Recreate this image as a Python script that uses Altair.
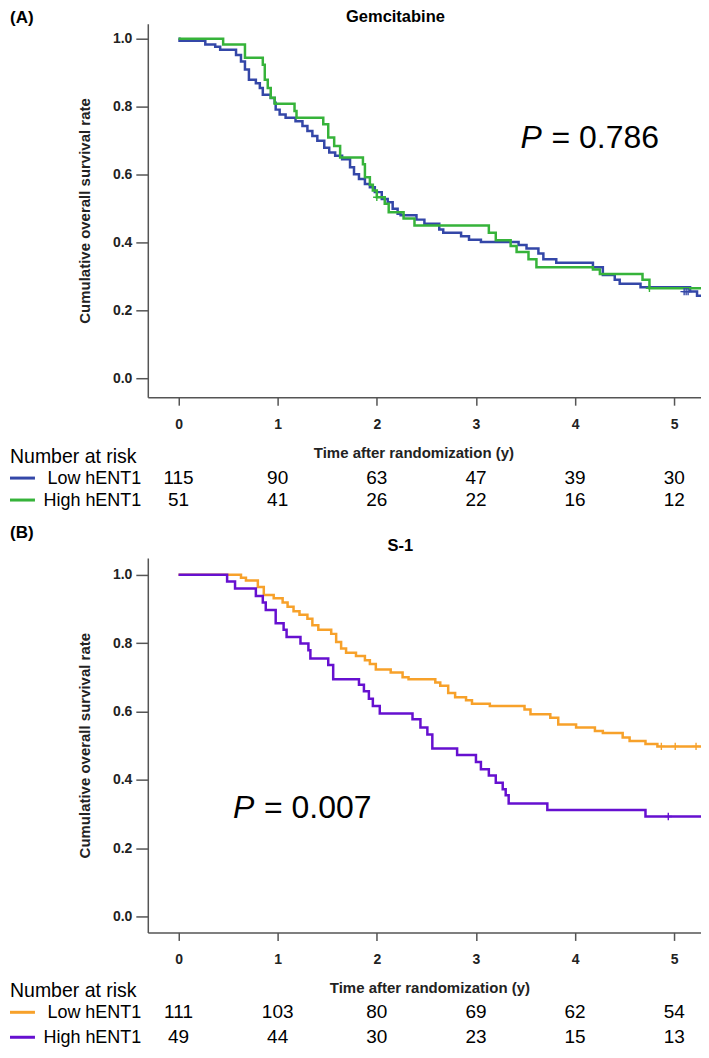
import altair as alt
import pandas as pd

# ---------------- data ----------------
groups = ["Low hENT1", "High hENT1"]

# (A) Gemcitabine - Kaplan-Meier steps (time in years, survival after step)
gem_low_t = [0, 0.01, 0.27, 0.37, 0.42, 0.58, 0.63, 0.67, 0.71, 0.78, 0.82, 0.85, 0.93, 0.97,
             0.98, 1.02, 1.08, 1.18, 1.25, 1.30, 1.35, 1.40, 1.47, 1.52, 1.58, 1.65, 1.73, 1.77,
             1.82, 1.88, 1.93, 1.98, 2.05, 2.11, 2.16, 2.21, 2.24, 2.40, 2.48, 2.63, 2.67, 2.85,
             2.93, 3.05, 3.43, 3.51, 3.63, 3.68, 3.81, 4.18, 4.28, 4.40, 4.45, 4.66, 5.16, 5.23, 5.29]
gem_low_s = [1.0, 0.994, 0.983, 0.976, 0.967, 0.952, 0.933, 0.909, 0.879, 0.869, 0.855, 0.835, 0.825, 0.811,
             0.791, 0.777, 0.767, 0.757, 0.743, 0.728, 0.713, 0.699, 0.679, 0.665, 0.655, 0.645, 0.621, 0.601,
             0.587, 0.572, 0.562, 0.548, 0.528, 0.518, 0.499, 0.484, 0.480, 0.467, 0.455, 0.438, 0.428, 0.418,
             0.408, 0.401, 0.392, 0.382, 0.367, 0.350, 0.340, 0.327, 0.304, 0.290, 0.278, 0.268, 0.255, 0.243, 0.243]
gem_high_t = [0, 0.45, 0.67, 0.85, 0.87, 0.90, 0.93, 0.97, 1.17, 1.19, 1.46, 1.51, 1.57, 1.63, 1.86,
              1.88, 1.93, 1.96, 2.00, 2.08, 2.12, 2.27, 2.38, 3.13, 3.20, 3.35, 3.41, 3.53, 3.61, 4.18,
              4.25, 4.68, 4.75, 5.29]
gem_high_s = [1.0, 0.983, 0.944, 0.923, 0.879, 0.855, 0.826, 0.808, 0.787, 0.767, 0.748, 0.709, 0.684, 0.650, 0.630,
              0.592, 0.570, 0.553, 0.533, 0.514, 0.489, 0.470, 0.450, 0.428, 0.406, 0.389, 0.372, 0.350, 0.327, 0.320,
              0.307, 0.290, 0.265, 0.265]
gem_cens_t = [5.10, 5.12, 5.14, 2.00, 4.75]
gem_cens_s = [0.255, 0.255, 0.255, 0.533, 0.265]
gem_cens_g = ["Low hENT1", "Low hENT1", "Low hENT1", "High hENT1", "High hENT1"]

# (B) S-1
s1_low_t = [0, 0.63, 0.68, 0.80, 0.86, 0.96, 1.05, 1.10, 1.16, 1.22, 1.30, 1.35, 1.41, 1.54, 1.59, 1.64,
            1.69, 1.79, 1.88, 1.93, 1.99, 2.14, 2.26, 2.32, 2.59, 2.64, 2.72, 2.79, 2.90, 2.96, 3.14, 3.49,
            3.55, 3.75, 3.83, 4.01, 4.20, 4.28, 4.48, 4.55, 4.71, 4.83, 5.29]
s1_low_s = [1.0, 0.991, 0.983, 0.964, 0.941, 0.931, 0.919, 0.906, 0.893, 0.883, 0.871, 0.852, 0.839, 0.827, 0.803, 0.784,
            0.772, 0.762, 0.750, 0.739, 0.723, 0.714, 0.700, 0.694, 0.685, 0.675, 0.654, 0.642, 0.633, 0.623, 0.616, 0.606,
            0.592, 0.582, 0.562, 0.553, 0.543, 0.537, 0.524, 0.514, 0.505, 0.498, 0.498]
s1_high_t = [0, 0.49, 0.57, 0.78, 0.85, 0.88, 0.98, 1.06, 1.09, 1.23, 1.31, 1.33, 1.51, 1.56, 1.82, 1.87,
             1.92, 1.96, 2.03, 2.36, 2.44, 2.51, 2.56, 2.81, 3.00, 3.05, 3.13, 3.20, 3.27, 3.30, 3.33, 3.72,
             4.71, 5.29]
s1_high_s = [1.0, 0.980, 0.960, 0.938, 0.919, 0.897, 0.858, 0.839, 0.818, 0.799, 0.779, 0.755, 0.736, 0.694, 0.678, 0.659,
             0.637, 0.616, 0.594, 0.577, 0.553, 0.533, 0.492, 0.473, 0.452, 0.431, 0.413, 0.392, 0.373, 0.355, 0.331, 0.312,
             0.293, 0.293]
s1_cens_t = [4.87, 5.01, 5.22, 4.94]
s1_cens_s = [0.498, 0.498, 0.498, 0.293]
s1_cens_g = ["Low hENT1", "Low hENT1", "Low hENT1", "High hENT1"]

# Number at risk
risk_times = [0, 1, 2, 3, 4, 5]
gem_risk_low = [115, 90, 63, 47, 39, 30]
gem_risk_high = [51, 41, 26, 22, 16, 12]
s1_risk_low = [111, 103, 80, 69, 62, 54]
s1_risk_high = [49, 44, 30, 23, 15, 13]

gem_colors = ["#3447A8", "#36B33A"]
s1_colors = ["#F7A12A", "#6610D0"]

# ---------------- layout constants ----------------
FONT = "Liberation Sans"
W = 554
XDOM = [-0.31, 5.27]
AX = "#555555"
LEFT = -138


def curves_df(lt, ls, ht, hs):
    return pd.DataFrame({
        "t": lt + ht,
        "s": ls + hs,
        "group": [groups[0]] * len(lt) + [groups[1]] * len(ht),
    })


def km_panel(curves, cens, colors, height, ydom, title, title_x, title_y,
             letter, letter_y, pval, p_t, p_s, xtitle_x, xlab_pad, xtitle_pad, header_y):
    xs = alt.Scale(domain=XDOM, nice=False, zero=False)
    ys = alt.Scale(domain=ydom, nice=False, zero=False)
    color = alt.Color("group:N", scale=alt.Scale(domain=groups, range=colors), legend=None)
    xaxis = alt.Axis(values=risk_times, format="d", grid=False, tickSize=8, tickWidth=1.5,
                     tickColor=AX, domainColor=AX, domainWidth=1.5, labelPadding=xlab_pad,
                     labelFontSize=14, labelFontWeight="bold", labelColor="#222", labelFlush=False,
                     title="Time after randomization (y)", titleFontSize=15, titleFontWeight="bold",
                     titleColor="#222", titlePadding=xtitle_pad, titleX=xtitle_x)
    yaxis = alt.Axis(values=[0, 0.2, 0.4, 0.6, 0.8, 1.0], format=".1f", grid=False, tickSize=12,
                     tickWidth=1.5, tickColor=AX, domainColor=AX, domainWidth=1.5, labelPadding=4,
                     labelFontSize=14, labelFontWeight="bold", labelColor="#222",
                     title="Cumulative overall survival rate", titleFontSize=15,
                     titleFontWeight="bold", titleColor="#222", titlePadding=20)
    lines = alt.Chart(curves).mark_line(interpolate="step-after", strokeWidth=2.5, clip=True).encode(
        x=alt.X("t:Q", scale=xs, axis=xaxis),
        y=alt.Y("s:Q", scale=ys, axis=yaxis),
        color=color,
    )
    cmarks = alt.Chart(cens).mark_point(shape="M-1,0L1,0M0,-1L0,1", size=55, strokeWidth=1.4,
                                        filled=False, opacity=1, clip=True).encode(
        x="t:Q", y="s:Q", color=color)
    pdf = pd.DataFrame({"t": [p_t], "s": [p_s], "p": ["P"], "v": ["= " + pval]})
    p1 = alt.Chart(pdf).mark_text(align="left", baseline="middle", fontSize=32,
                                  fontStyle="italic", color="black").encode(x="t:Q", y="s:Q", text="p:N")
    p2 = alt.Chart(pdf).mark_text(align="left", baseline="middle", fontSize=32, dx=31,
                                  color="black").encode(x="t:Q", y="s:Q", text="v:N")
    let = alt.Chart(pd.DataFrame({"label": [letter]})).mark_text(
        align="left", baseline="middle", fontSize=17, fontWeight="bold", color="black").encode(
        text="label:N", x=alt.value(LEFT), y=alt.value(letter_y))
    ttl = alt.Chart(pd.DataFrame({"label": [title]})).mark_text(
        align="center", baseline="middle", fontSize=16.5, fontWeight="bold", color="black").encode(
        text="label:N", x=alt.value(title_x), y=alt.value(title_y))
    hdr = alt.Chart(pd.DataFrame({"label": ["Number at risk"]})).mark_text(
        align="left", baseline="middle", fontSize=19.5, color="black").encode(
        text="label:N", x=alt.value(LEFT), y=alt.value(header_y))
    return alt.layer(lines, cmarks, p1, p2, let, ttl, hdr).properties(width=W, height=height)


def risk_table(low, high, colors, height, pad):
    df = pd.DataFrame({
        "t": risk_times + risk_times,
        "n": low + high,
        "group": [groups[0]] * len(risk_times) + [groups[1]] * len(risk_times),
    })
    ys = alt.Scale(type="point", domain=groups, padding=pad)
    yaxis = alt.Axis(title=None, domain=False, ticks=False, labelFontSize=18, labelPadding=7,
                     labelColor="black", labelFontWeight="normal")
    nums = alt.Chart(df).mark_text(fontSize=19, baseline="middle", color="black").encode(
        x=alt.X("t:Q", scale=alt.Scale(domain=XDOM, nice=False, zero=False), axis=None),
        y=alt.Y("group:N", scale=ys, axis=yaxis),
        text="n:Q",
    )
    sw = alt.Chart(pd.DataFrame({"group": groups})).mark_rule(strokeWidth=3).encode(
        x=alt.value(LEFT), x2=alt.value(LEFT + 25),
        y=alt.Y("group:N", scale=ys, axis=yaxis),
        color=alt.Color("group:N", scale=alt.Scale(domain=groups, range=colors), legend=None),
    )
    return alt.layer(nums, sw).properties(width=W, height=height)


gem_curves = curves_df(gem_low_t, gem_low_s, gem_high_t, gem_high_s)
gem_cens = pd.DataFrame({"t": gem_cens_t, "s": gem_cens_s, "group": gem_cens_g})
s1_curves = curves_df(s1_low_t, s1_low_s, s1_high_t, s1_high_s)
s1_cens = pd.DataFrame({"t": s1_cens_t, "s": s1_cens_s, "group": s1_cens_g})

kmA = km_panel(gem_curves, gem_cens, gem_colors, 374, [-0.056, 1.044], "Gemcitabine", 248, -7,
               "(A)", -6, "0.786", 3.45, 0.706, 266, 12, 14, 434)
tabA = risk_table(gem_risk_low, gem_risk_high, gem_colors, 44, 0.5)
kmB = km_panel(s1_curves, s1_cens, s1_colors, 375, [-0.046, 1.049], "S-1", 253, -12,
               "(B)", -25, "0.007", 0.55, 0.318, 282, 12, 14, 434)
tabB = risk_table(s1_risk_low, s1_risk_high, s1_colors, 47, 0.44)

top = alt.vconcat(kmA, tabA, spacing=0).resolve_scale(y="independent")
bot = alt.vconcat(kmB, tabB, spacing=0).resolve_scale(y="independent")
chart = alt.vconcat(top, bot, spacing=13).resolve_scale(
    color="independent", y="independent").properties(padding=0).configure(
    font=FONT).configure_view(stroke=None)

chart.save("out.html", embed_options={"renderer": "svg", "actions": False})
